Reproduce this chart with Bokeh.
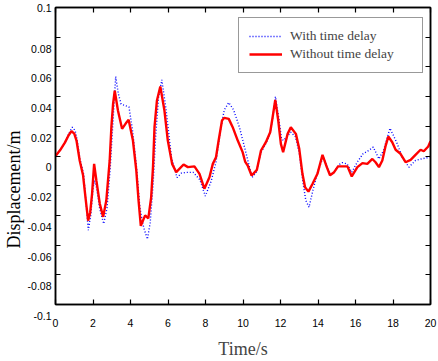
from bokeh.plotting import figure
from bokeh.models import (Range1d, LinearAxis, FixedTicker, Title, CustomJSTickFormatter)
from bokeh.embed import file_html
from bokeh.resources import INLINE

# ---------------- data ----------------
t_with = [0, 0.25, 0.5, 0.7, 0.9, 1.05, 1.15, 1.3, 1.5, 1.62, 1.75, 1.88, 2.0, 2.08, 2.2,
          2.35, 2.57, 2.75, 2.92, 3.05, 3.21, 3.35, 3.5, 3.7, 3.92, 4.1, 4.3, 4.5, 4.7,
          4.9, 5.05, 5.2, 5.35, 5.5, 5.67, 5.9, 6.18, 6.48, 6.72, 6.98, 7.34, 7.7, 7.99,
          8.3, 8.56, 8.82, 9.0, 9.24, 9.5, 9.82, 10.0, 10.2, 10.48, 10.7, 10.95, 11.2,
          11.45, 11.6, 11.73, 11.9, 12.05, 12.15, 12.35, 12.55, 12.8, 13.0, 13.2, 13.35,
          13.52, 13.75, 14.0, 14.28, 14.5, 14.7, 14.9, 15.1, 15.3, 15.55, 15.8, 16.1,
          16.4, 16.7, 16.95, 17.25, 17.5, 17.84, 18.2, 18.5, 18.85, 19.2, 19.5, 19.9, 20.0]
v_with = [0.0, 0.004, 0.009, 0.015, 0.0194, 0.017, 0.011, -0.002, -0.012, -0.030, -0.050,
          -0.040, -0.022, -0.0165, -0.022, -0.035, -0.0456, -0.035, -0.008, 0.020, 0.0535,
          0.042, 0.035, 0.034, 0.033, 0.018, -0.005, -0.035, -0.048, -0.056, -0.045, -0.020,
          0.015, 0.040, 0.0513, 0.031, -0.0008, -0.0145, -0.0115, -0.011, -0.011, -0.016,
          -0.027, -0.017, -0.004, 0.019, 0.031, 0.036, 0.031, 0.019, 0.010, 0.000, -0.0145,
          -0.011, 0.002, 0.008, 0.015, 0.027, 0.040, 0.026, 0.012, 0.0104, 0.013, 0.016,
          0.013, 0.002, -0.018, -0.030, -0.0345, -0.022, -0.010, -0.0007, -0.008, -0.013,
          -0.010, -0.006, -0.0045, -0.0053, -0.011, -0.004, 0.0015, 0.0037, 0.006, -0.002,
          0.004, 0.0187, 0.009, -0.001, -0.0075, -0.003, -0.002, -0.001, 0.000]

t_without = [0, 0.25, 0.5, 0.7, 0.85, 1.0, 1.12, 1.29, 1.47, 1.6, 1.74, 1.85, 1.95, 2.06,
             2.18, 2.36, 2.54, 2.71, 2.89, 2.98, 3.07, 3.16, 3.33, 3.55, 3.75, 3.9, 4.13,
             4.31, 4.43, 4.55, 4.78, 4.95, 5.1, 5.2, 5.28, 5.41, 5.59, 5.81, 5.99, 6.22,
             6.44, 6.83, 7.06, 7.41, 7.68, 7.94, 8.21, 8.39, 8.56, 8.7, 8.88, 9.0, 9.24,
             9.45, 9.72, 9.98, 10.12, 10.25, 10.46, 10.74, 10.96, 11.22, 11.45, 11.58,
             11.72, 11.88, 12.02, 12.14, 12.38, 12.55, 12.82, 13.0, 13.17, 13.31, 13.49,
             13.71, 13.97, 14.24, 14.47, 14.64, 14.86, 15.07, 15.3, 15.57, 15.8, 16.1,
             16.37, 16.63, 16.9, 17.07, 17.25, 17.43, 17.61, 17.75, 17.96, 18.14, 18.4,
             18.67, 18.94, 19.2, 19.47, 19.64, 19.88, 20.0]
v_without = [0.0, 0.004, 0.009, 0.014, 0.0167, 0.015, 0.0104, -0.003, -0.013, -0.028,
             -0.0435, -0.038, -0.0255, -0.0053, -0.0165, -0.032, -0.041, -0.030, -0.003,
             0.0194, 0.035, 0.044, 0.0306, 0.0183, 0.022, 0.0244, 0.0104, -0.0098, -0.030,
             -0.047, -0.040, -0.042, -0.028, -0.0075, 0.0194, 0.0374, 0.0468, 0.0306,
             0.0104, -0.0053, -0.0109, -0.0057, -0.0075, -0.007, -0.012, -0.022, -0.0143,
             -0.0053, -0.0008, 0.0104, 0.0239, 0.0257, 0.025, 0.0194, 0.0104, 0.0026,
             -0.004, -0.0064, -0.0131, -0.0093, 0.0037, 0.0093, 0.016, 0.0261, 0.0378,
             0.0239, 0.0082, 0.0026, 0.0149, 0.0194, 0.0149, 0.0048, -0.012, -0.021, -0.024,
             -0.0187, -0.012, 0.0008, -0.0075, -0.013, -0.0109, -0.007, -0.007, -0.007,
             -0.0138, -0.0075, -0.0048, -0.0053, -0.002, -0.0042, -0.0075, -0.003, 0.007,
             0.0131, 0.0093, 0.0042, 0.0015, -0.0042, -0.0026, 0.0008, 0.0042, 0.0032,
             0.0064, 0.010]

series_names = ["With time delay", "Without time delay"]

x_ticks = [0, 2, 4, 6, 8, 10, 12, 14, 16, 18, 20]
x_tick_labels = ["0", "2", "4", "6", "8", "10", "12", "14", "16", "18", "20"]
y_ticks = [-0.1, -0.08, -0.06, -0.04, -0.02, 0, 0.02, 0.04, 0.06, 0.08, 0.1]
y_tick_labels = ["-0.1", "-0.08", "-0.06", "-0.04", "-0.02", "0", "0.02", "0.04",
                 "0.06", "0.08", "0.1"]

x_label = "Time/s"
y_label = "Displacement/m"

# ---------------- figure ----------------
SERIF = "Liberation Serif"
SANS = "Liberation Sans"

p = figure(width=438, height=361, output_backend="svg", toolbar_location=None,
           x_range=Range1d(0, 20), y_range=Range1d(-0.1, 0.1),
           min_border_left=54, min_border_right=8, min_border_top=7, min_border_bottom=57)
p.background_fill_color = "white"
p.border_fill_color = "white"
p.grid.visible = False
p.outline_line_color = "black"
p.outline_line_width = 1.5

p.line(t_with, v_with, line_color="#0000FF", line_width=1.4, line_dash="1 2",
       legend_label=series_names[0])
p.line(t_without, v_without, line_color="#FF0000", line_width=2.4,
       legend_label=series_names[1])

xa = p.xaxis[0]
xa.ticker = FixedTicker(ticks=x_ticks)
xa.major_label_overrides = {k: v for k, v in zip(x_ticks, x_tick_labels)}
ya = p.yaxis[0]
ya.ticker = FixedTicker(ticks=y_ticks)
# labels sit a little below their ticks in the reference: an empty first line pushes them down
# (the topmost label is kept on one line; it is held inside the canvas anyway)
ya.major_label_overrides = {k: (v if k == max(y_ticks) else "\n" + v)
                            for k, v in zip(y_ticks, y_tick_labels)}
ya.major_label_text_line_height = 1.9

for ax in (xa, ya):
    ax.major_tick_in = 5
    ax.major_tick_out = 0
    ax.minor_tick_line_color = None
    ax.axis_line_width = 1.5
    ax.major_tick_line_width = 1.2
    ax.major_label_text_font = SANS
    ax.major_label_text_font_size = "10.5px"
    ax.major_label_text_color = "black"

xa.major_label_standoff = 14
xa.axis_label = x_label
xa.axis_label_text_font = SERIF
xa.axis_label_text_font_size = "18px"
xa.axis_label_text_font_style = "normal"
xa.axis_label_standoff = 9

ya.major_label_standoff = 4

# mirrored axes (ticks only)
blank = CustomJSTickFormatter(code="return ''")
for side in ("right", "above"):
    ax = LinearAxis(ticker=FixedTicker(ticks=y_ticks if side == "right" else x_ticks),
                    formatter=blank)
    ax.major_tick_in = 5
    ax.major_tick_out = 0
    ax.minor_tick_line_color = None
    ax.axis_line_width = 1.5
    ax.major_tick_line_width = 1.2
    ax.major_label_standoff = 0
    ax.major_label_text_font_size = "1px"
    p.add_layout(ax, side)

# y axis title, placed lower than centre as in the reference
ytitle = Title(text=y_label, align="left", offset=56, standoff=2,
               text_font=SERIF, text_font_size="18px", text_font_style="normal",
               text_color="black")
p.add_layout(ytitle, "left")

# legend
lg = p.legend[0]
lg.location = (183, 231)
lg.padding = 10
lg.spacing = 2
lg.glyph_width = 33
lg.glyph_height = 16
lg.label_height = 16
lg.label_width = 122
lg.label_standoff = 8
lg.label_text_font = SERIF
lg.label_text_font_size = "13.5px"
lg.border_line_color = "#333333"
lg.border_line_width = 1
lg.background_fill_color = "white"
lg.background_fill_alpha = 1

open("out.html", "w").write(file_html(p, INLINE))
